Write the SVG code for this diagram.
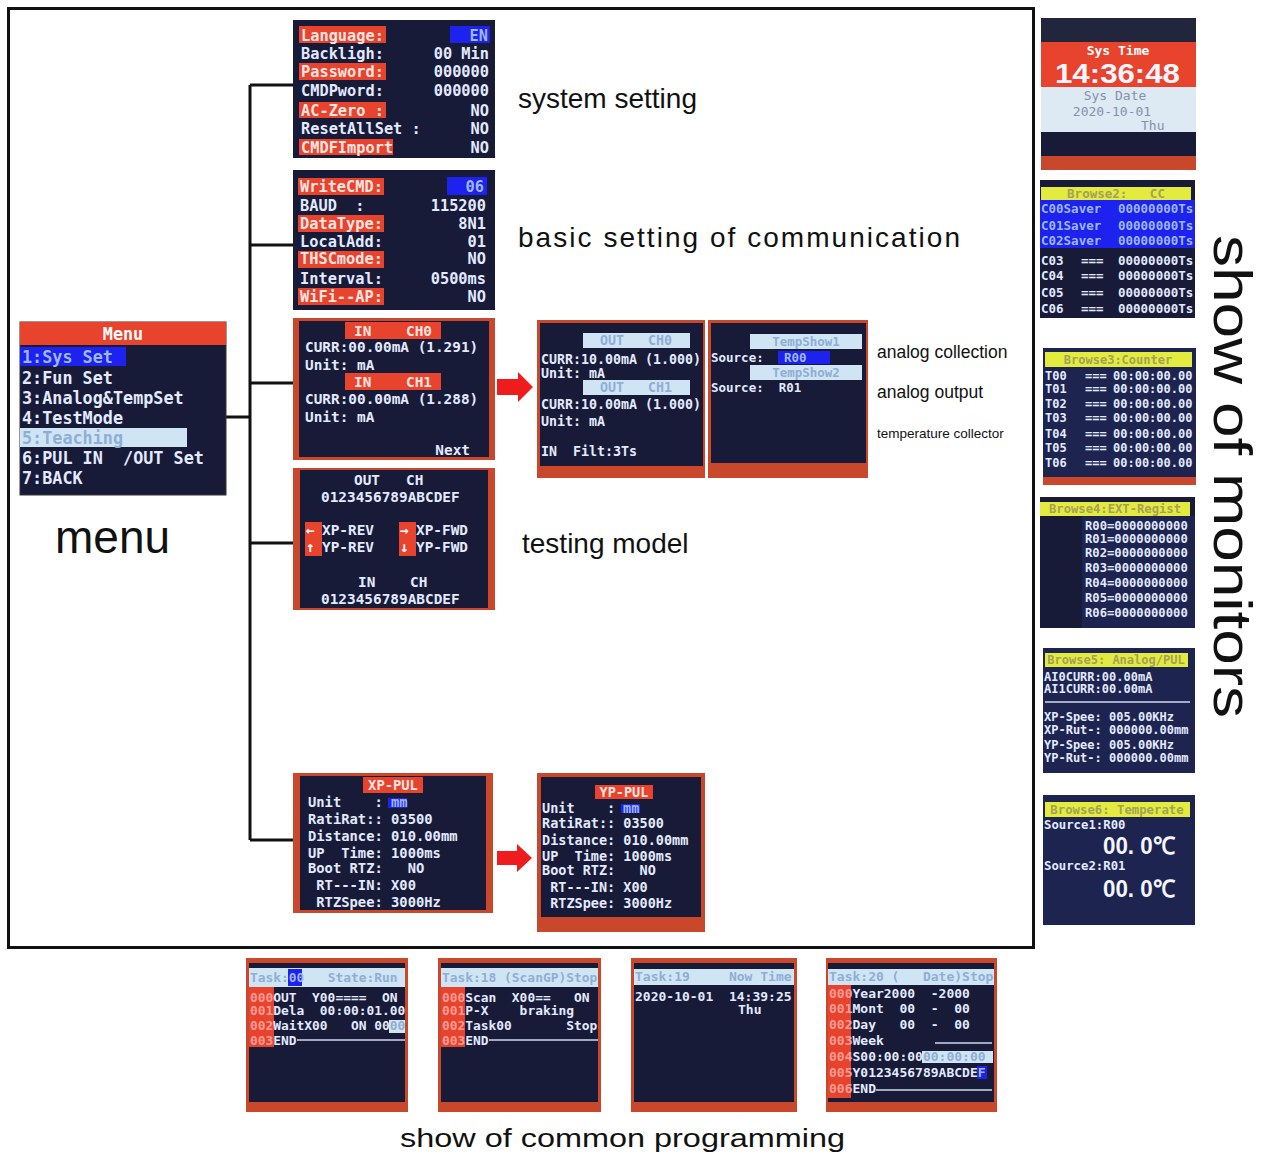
<svg xmlns="http://www.w3.org/2000/svg" width="1270" height="1155" viewBox="0 0 1270 1155">
<style>
.m{font-family:"DejaVu Sans Mono","Liberation Mono",monospace;font-weight:bold;fill:#e3eaff}
.w{fill:#ffffff}
.pk{fill:#ffe6e2}
.hb{fill:#9db8ff}
.hc{fill:#8eaed6}
.hy{fill:#a3a15a}
.num{fill:#ff9c94}
.dim{fill:#8790ab}
.cap{font-family:"Liberation Sans",Arial,sans-serif;fill:#111}
.big{font-family:"Liberation Sans",Arial,sans-serif;font-weight:bold;fill:#f4f6ff}
.scr{fill:#171b38}
.nav{fill:#1d2450}
.bz{fill:#c9472b}
.rd{fill:#e8432d}
.bl{fill:#1e22ee}
.cy{fill:#cfe5f3}
.yl{fill:#e3eb3e}
.wire{fill:none;stroke:#111;stroke-width:3}
.ar{fill:#ee1c1c}
.rule{stroke:#cfd8f0;stroke-width:1.5}
</style>
<rect width="1270" height="1155" fill="#ffffff"/>
<rect x="8.5" y="8.5" width="1025" height="939" fill="none" stroke="#111" stroke-width="3"/>

<!-- tree wiring and red flow arrows -->
<g id="connectors">
  <g class="wire">
    <path d="M250,85 V840"/>
    <path d="M226,417 H250"/>
    <path d="M250,85 H293 M250,245 H293 M250,383 H293 M250,543 H293 M250,840 H293"/>
  </g>
  <path class="ar" d="M497,379 H518 V372 L533,387 L518,402 V395 H497 Z"/>
  <path class="ar" d="M497,851 H517 V844 L532,858 L517,872 V865 H497 Z"/>
</g>

<!-- main menu -->
<g id="menu">
  <rect x="20" y="322" width="206" height="173" class="scr" stroke="#333" stroke-width="1"/>
  <rect x="20" y="322" width="206" height="23" class="rd"/>
  <rect x="20" y="347" width="106" height="19" class="bl"/>
  <rect x="20" y="428" width="167" height="19" class="cy"/>
  <g class="m" font-size="16.8">
    <text x="123" y="340" text-anchor="middle" class="w">Menu</text>
    <text x="22" y="363" class="hb">1:Sys&#160;Set</text>
    <text x="22" y="384">2:Fun&#160;Set</text>
    <text x="22" y="404">3:Analog&amp;TempSet</text>
    <text x="22" y="424">4:TestMode</text>
    <text x="22" y="444" class="hc">5:Teaching</text>
    <text x="22" y="464">6:PUL&#160;IN&#160;&#160;/OUT&#160;Set</text>
    <text x="22" y="484">7:BACK</text>
  </g>
  <text x="55" y="553" class="cap" font-size="46">menu</text>
</g>

<!-- system setting -->
<g id="sys-setting">
  <rect x="293" y="20" width="202" height="138" class="scr"/>
  <rect x="299" y="26" width="87" height="17" class="rd"/>
  <rect x="299" y="63" width="87" height="17" class="rd"/>
  <rect x="299" y="102" width="87" height="16" class="rd"/>
  <rect x="299" y="139" width="94" height="16" class="rd"/>
  <rect x="450" y="26" width="40" height="17" class="bl"/>
  <g class="m" font-size="15.3">
    <text x="301" y="40.5" class="pk">Language:</text><text x="488" y="40.5" text-anchor="end" class="hb">EN</text>
    <text x="301" y="58.5">Backligh:</text><text x="489" y="58.5" text-anchor="end">00&#160;Min</text>
    <text x="301" y="76.5" class="pk">Password:</text><text x="489" y="76.5" text-anchor="end">000000</text>
    <text x="301" y="95.5">CMDPword:</text><text x="489" y="95.5" text-anchor="end">000000</text>
    <text x="301" y="115.5" class="pk">AC-Zero&#160;:</text><text x="489" y="115.5" text-anchor="end">NO</text>
    <text x="301" y="133.5">ResetAllSet&#160;:</text><text x="489" y="133.5" text-anchor="end">NO</text>
    <text x="301" y="152.5" class="pk">CMDFImport</text><text x="489" y="152.5" text-anchor="end">NO</text>
  </g>
  <text x="518" y="108" class="cap" font-size="28">system setting</text>
</g>

<!-- communication setting -->
<g id="comm-setting">
  <rect x="293" y="170" width="202" height="140" class="scr"/>
  <rect x="298" y="178" width="86" height="17" class="rd"/>
  <rect x="298" y="215" width="86" height="17" class="rd"/>
  <rect x="298" y="251" width="86" height="17" class="rd"/>
  <rect x="298" y="288" width="86" height="17" class="rd"/>
  <rect x="447" y="177" width="40" height="18" class="bl"/>
  <g class="m" font-size="15.3">
    <text x="300" y="191.5" class="pk">WriteCMD:</text><text x="484" y="191.5" text-anchor="end" class="hb">06</text>
    <text x="300" y="210.5">BAUD&#160;&#160;:</text><text x="486" y="210.5" text-anchor="end">115200</text>
    <text x="300" y="228.5" class="pk">DataType:</text><text x="486" y="228.5" text-anchor="end">8N1</text>
    <text x="300" y="246.5">LocalAdd:</text><text x="486" y="246.5" text-anchor="end">01</text>
    <text x="300" y="263.5" class="pk">THSCmode:</text><text x="486" y="263.5" text-anchor="end">NO</text>
    <text x="300" y="283.5">Interval:</text><text x="486" y="283.5" text-anchor="end">0500ms</text>
    <text x="300" y="301.5" class="pk">WiFi--AP:</text><text x="486" y="301.5" text-anchor="end">NO</text>
  </g>
  <text x="518" y="247" class="cap" font-size="28" textLength="442">basic setting of communication</text>
</g>

<!-- analog input channels -->
<g id="analog-in">
  <rect x="293" y="318" width="202" height="142" class="bz"/>
  <rect x="299" y="321" width="190" height="136" class="scr"/>
  <rect x="345" y="322" width="96" height="17" class="rd"/>
  <rect x="345" y="373" width="96" height="17" class="rd"/>
  <g class="m" font-size="14.4">
    <text x="393" y="335.5" text-anchor="middle" class="pk">IN&#160;&#160;&#160;&#160;CH0</text>
    <text x="305" y="352">CURR:00.00mA&#160;(1.291)</text>
    <text x="305" y="370">Unit:&#160;mA</text>
    <text x="393" y="386.5" text-anchor="middle" class="pk">IN&#160;&#160;&#160;&#160;CH1</text>
    <text x="305" y="404">CURR:00.00mA&#160;(1.288)</text>
    <text x="305" y="422">Unit:&#160;mA</text>
    <text x="470" y="455" text-anchor="end">Next</text>
  </g>
</g>

<!-- analog output channels -->
<g id="analog-out">
  <rect x="537" y="320" width="168" height="158" class="bz"/>
  <rect x="540" y="323" width="163" height="143" class="scr"/>
  <rect x="583" y="333" width="107" height="15" class="cy"/>
  <rect x="583" y="380" width="107" height="15" class="cy"/>
  <g class="m" font-size="13.3">
    <text x="636" y="345" text-anchor="middle" class="hc">OUT&#160;&#160;&#160;CH0</text>
    <text x="541" y="364">CURR:10.00mA&#160;(1.000)</text>
    <text x="541" y="378">Unit:&#160;mA</text>
    <text x="636" y="392" text-anchor="middle" class="hc">OUT&#160;&#160;&#160;CH1</text>
    <text x="541" y="409">CURR:10.00mA&#160;(1.000)</text>
    <text x="541" y="426">Unit:&#160;mA</text>
    <text x="541" y="456">IN&#160;&#160;Filt:3Ts</text>
  </g>
</g>

<!-- temperature sources -->
<g id="temp-show">
  <rect x="708" y="320" width="160" height="158" class="bz"/>
  <rect x="711" y="323" width="155" height="140" class="scr"/>
  <rect x="750" y="334" width="112" height="15" class="cy"/>
  <rect x="750" y="365" width="112" height="15" class="cy"/>
  <rect x="778" y="351" width="52" height="13" class="bl"/>
  <g class="m" font-size="12.5">
    <text x="806" y="346" text-anchor="middle" class="hc">TempShow1</text>
    <text x="711" y="362">Source:</text><text x="784" y="362" class="hb">R00</text>
    <text x="806" y="377" text-anchor="middle" class="hc">TempShow2</text>
    <text x="711" y="392">Source:&#160;&#160;R01</text>
  </g>
  <text x="877" y="358" class="cap" font-size="17.5">analog collection</text>
  <text x="877" y="398" class="cap" font-size="17.5">analog output</text>
  <text x="877" y="438" class="cap" font-size="13.5">temperature collector</text>
</g>

<!-- test mode -->
<g id="test-mode">
  <rect x="293" y="468" width="202" height="142" class="bz"/>
  <rect x="300" y="470" width="188" height="138" class="scr"/>
  <rect x="305" y="522" width="17" height="34" class="rd"/>
  <rect x="399" y="522" width="17" height="34" class="rd"/>
  <g class="m" font-size="14.4">
    <text x="354" y="485">OUT&#160;&#160;&#160;CH</text>
    <text x="321" y="502">0123456789ABCDEF</text>
    <text x="306" y="535" class="w">←</text><text x="322" y="535">XP-REV</text>
    <text x="306" y="552" class="w">↑</text><text x="322" y="552">YP-REV</text>
    <text x="400" y="535" class="w">→</text><text x="416" y="535">XP-FWD</text>
    <text x="400" y="552" class="w">↓</text><text x="416" y="552">YP-FWD</text>
    <text x="358" y="587">IN&#160;&#160;&#160;&#160;CH</text>
    <text x="321" y="604">0123456789ABCDEF</text>
  </g>
  <text x="522" y="553" class="cap" font-size="28">testing model</text>
</g>

<!-- pulse axis X -->
<g id="xp-pul">
  <rect x="293" y="773" width="200" height="140" class="bz"/>
  <rect x="300" y="776" width="186" height="134" class="scr"/>
  <rect x="363" y="777" width="60" height="16" class="rd"/>
  <rect x="388" y="798" width="19" height="10" class="bl"/>
  <g class="m" font-size="13.8">
    <text x="393" y="790" text-anchor="middle" class="pk">XP-PUL</text>
    <text x="308" y="807">Unit&#160;&#160;&#160;&#160;:</text><text x="391" y="807" class="hb">mm</text>
    <text x="308" y="824">RatiRat::&#160;03500</text>
    <text x="308" y="841">Distance:&#160;010.00mm</text>
    <text x="308" y="858">UP&#160;&#160;Time:&#160;1000ms</text>
    <text x="308" y="873">Boot&#160;RTZ:&#160;&#160;&#160;NO</text>
    <text x="308" y="890">&#160;RT---IN:&#160;X00</text>
    <text x="308" y="907">&#160;RTZSpee:&#160;3000Hz</text>
  </g>
</g>

<!-- pulse axis Y -->
<g id="yp-pul">
  <rect x="537" y="773" width="168" height="159" class="bz"/>
  <rect x="541" y="777" width="160" height="140" class="scr"/>
  <rect x="595" y="785" width="58" height="14" class="rd"/>
  <rect x="621" y="804" width="19" height="9" class="bl"/>
  <g class="m" font-size="13.5">
    <text x="624" y="797" text-anchor="middle" class="pk">YP-PUL</text>
    <text x="542" y="813">Unit&#160;&#160;&#160;&#160;:</text><text x="623" y="813" class="hb">mm</text>
    <text x="542" y="828">RatiRat::&#160;03500</text>
    <text x="542" y="845">Distance:&#160;010.00mm</text>
    <text x="542" y="861">UP&#160;&#160;Time:&#160;1000ms</text>
    <text x="542" y="875">Boot&#160;RTZ:&#160;&#160;&#160;NO</text>
    <text x="542" y="892">&#160;RT---IN:&#160;X00</text>
    <text x="542" y="908">&#160;RTZSpee:&#160;3000Hz</text>
  </g>
</g>

<!-- monitor: system clock -->
<g id="mon-time">
  <rect x="1041" y="18" width="155" height="152" class="scr"/>
  <rect x="1041" y="18" width="155" height="24" fill="#22263c"/>
  <rect x="1041" y="42" width="155" height="45" class="rd"/>
  <rect x="1041" y="87" width="155" height="45" fill="#dde9f3"/>
  <rect x="1041" y="156" width="155" height="14" class="bz"/>
  <text x="1118" y="55" text-anchor="middle" class="m w" font-size="13">Sys&#160;Time</text>
  <text x="1055" y="83" class="big" font-size="28" textLength="125" lengthAdjust="spacingAndGlyphs">14:36:48</text>
  <g class="m" font-size="13">
    <text x="1115" y="100" text-anchor="middle" class="dim" style="font-weight:normal">Sys&#160;Date</text>
    <text x="1112" y="116" text-anchor="middle" class="dim" style="font-weight:normal">2020-10-01</text>
    <text x="1141" y="130" class="dim" style="font-weight:normal">Thu</text>
  </g>
</g>

<!-- monitor: counters C -->
<g id="mon-browse2">
  <rect x="1040" y="180" width="155" height="138" class="scr"/>
  <rect x="1041" y="187" width="150" height="13" class="yl"/>
  <rect x="1040" y="200" width="155" height="48" class="bl"/>
  <g class="m" font-size="12.5">
    <text x="1116" y="198" text-anchor="middle" class="hy">Browse2:&#160;&#160;&#160;CC</text>
    <text x="1041" y="212.5" class="hb">C00Saver</text><text x="1118" y="212.5" class="hb">00000000Ts</text>
    <text x="1041" y="229.5" class="hb">C01Saver</text><text x="1118" y="229.5" class="hb">00000000Ts</text>
    <text x="1041" y="244.5" class="hb">C02Saver</text><text x="1118" y="244.5" class="hb">00000000Ts</text>
    <text x="1041" y="264.5">C03</text><text x="1081" y="264.5">===</text><text x="1118" y="264.5">00000000Ts</text>
    <text x="1041" y="279.5">C04</text><text x="1081" y="279.5">===</text><text x="1118" y="279.5">00000000Ts</text>
    <text x="1041" y="296.5">C05</text><text x="1081" y="296.5">===</text><text x="1118" y="296.5">00000000Ts</text>
    <text x="1041" y="312.5">C06</text><text x="1081" y="312.5">===</text><text x="1118" y="312.5">00000000Ts</text>
  </g>
</g>

<!-- monitor: timers T -->
<g id="mon-browse3">
  <rect x="1043" y="348" width="153" height="137" class="nav"/>
  <rect x="1043" y="477" width="153" height="8" class="bz"/>
  <rect x="1045" y="352" width="147" height="15" class="yl"/>
  <g class="m" font-size="12">
    <text x="1118" y="364" text-anchor="middle" class="hy">Browse3:Counter</text>
    <text x="1045" y="379.5">T00</text><text x="1085" y="379.5">===</text><text x="1113" y="379.5">00:00:00.00</text>
    <text x="1045" y="392.5">T01</text><text x="1085" y="392.5">===</text><text x="1113" y="392.5">00:00:00.00</text>
    <text x="1045" y="407.5">T02</text><text x="1085" y="407.5">===</text><text x="1113" y="407.5">00:00:00.00</text>
    <text x="1045" y="421.5">T03</text><text x="1085" y="421.5">===</text><text x="1113" y="421.5">00:00:00.00</text>
    <text x="1045" y="437.5">T04</text><text x="1085" y="437.5">===</text><text x="1113" y="437.5">00:00:00.00</text>
    <text x="1045" y="451.5">T05</text><text x="1085" y="451.5">===</text><text x="1113" y="451.5">00:00:00.00</text>
    <text x="1045" y="466.5">T06</text><text x="1085" y="466.5">===</text><text x="1113" y="466.5">00:00:00.00</text>
  </g>
</g>

<!-- monitor: extension registers -->
<g id="mon-browse4">
  <rect x="1040" y="497" width="155" height="131" class="scr"/>
  <rect x="1082" y="516" width="113" height="112" class="nav"/>
  <rect x="1040" y="502" width="150" height="14" class="yl"/>
  <g class="m" font-size="12.2">
    <text x="1115" y="513" text-anchor="middle" class="hy">Browse4:EXT-Regist</text>
    <text x="1085" y="529.5">R00=0000000000</text>
    <text x="1085" y="542.5">R01=0000000000</text>
    <text x="1085" y="556.5">R02=0000000000</text>
    <text x="1085" y="571.5">R03=0000000000</text>
    <text x="1085" y="586.5">R04=0000000000</text>
    <text x="1085" y="601.5">R05=0000000000</text>
    <text x="1085" y="616.5">R06=0000000000</text>
  </g>
</g>

<!-- monitor: analog and pulse values -->
<g id="mon-browse5">
  <rect x="1043" y="648" width="152" height="125" class="nav"/>
  <rect x="1045" y="653" width="143" height="14" class="yl"/>
  <line x1="1045" y1="702" x2="1190" y2="702" class="rule"/>
  <g class="m" font-size="12">
    <text x="1116" y="664" text-anchor="middle" class="hy">Browse5:&#160;Analog/PUL</text>
    <text x="1044" y="681">AI0CURR:00.00mA</text>
    <text x="1044" y="693">AI1CURR:00.00mA</text>
    <text x="1044" y="721">XP-Spee:&#160;005.00KHz</text>
    <text x="1044" y="734">XP-Rut-:&#160;000000.00mm</text>
    <text x="1044" y="749">YP-Spee:&#160;005.00KHz</text>
    <text x="1044" y="762">YP-Rut-:&#160;000000.00mm</text>
  </g>
</g>

<!-- monitor: temperatures -->
<g id="mon-browse6">
  <rect x="1043" y="795" width="152" height="130" class="nav"/>
  <rect x="1045" y="802" width="145" height="15" class="yl"/>
  <g class="m" font-size="12.3">
    <text x="1117" y="814" text-anchor="middle" class="hy">Browse6:&#160;Temperate</text>
    <text x="1044" y="829">Source1:R00</text>
    <text x="1044" y="870">Source2:R01</text>
  </g>
  <text x="1103" y="854" class="big" font-size="24" textLength="72" lengthAdjust="spacingAndGlyphs">00. 0℃</text>
  <text x="1103" y="897" class="big" font-size="24" textLength="72" lengthAdjust="spacingAndGlyphs">00. 0℃</text>
</g>

<text transform="translate(1214,235) rotate(90)" class="cap" font-size="54" textLength="483" lengthAdjust="spacingAndGlyphs">show of monitors</text>

<!-- programming: task 00 -->
<g id="prog-task00">
  <rect x="246" y="958" width="162" height="154" class="bz"/>
  <rect x="249" y="963" width="156" height="139" class="scr"/>
  <rect x="249" y="968" width="156" height="19" class="cy"/>
  <rect x="288" y="969" width="14" height="17" class="bl"/>
  <rect x="249" y="987" width="25" height="60" class="rd"/>
  <rect x="389" y="1020" width="16" height="13" class="cy"/>
  <line x1="297" y1="1040" x2="405" y2="1040" class="rule"/>
  <g class="m" font-size="12.9">
    <text x="250" y="982" class="hc">Task:<tspan class="hb">00</tspan>&#160;&#160;&#160;State:Run</text>
    <text x="250" y="1001.5"><tspan class="num">000</tspan>OUT&#160;&#160;Y00====&#160;&#160;ON</text>
    <text x="250" y="1014.5"><tspan class="num">001</tspan>Dela&#160;&#160;00:00:01.00</text>
    <text x="250" y="1029.5"><tspan class="num">002</tspan>WaitX00&#160;&#160;&#160;ON&#160;00<tspan class="hc">00</tspan></text>
    <text x="250" y="1044.5"><tspan class="num">003</tspan>END</text>
  </g>
</g>

<!-- programming: task 18 -->
<g id="prog-task18">
  <rect x="438" y="958" width="163" height="154" class="bz"/>
  <rect x="441" y="963" width="157" height="139" class="scr"/>
  <rect x="441" y="968" width="157" height="19" class="cy"/>
  <rect x="441" y="987" width="24" height="60" class="rd"/>
  <line x1="489" y1="1040" x2="598" y2="1040" class="rule"/>
  <g class="m" font-size="12.9">
    <text x="442" y="982" class="hc">Task:18&#160;(ScanGP)Stop</text>
    <text x="442" y="1001.5"><tspan class="num">000</tspan>Scan&#160;&#160;X00==&#160;&#160;&#160;ON</text>
    <text x="442" y="1014.5"><tspan class="num">001</tspan>P-X&#160;&#160;&#160;&#160;braking</text>
    <text x="442" y="1029.5"><tspan class="num">002</tspan>Task00&#160;&#160;&#160;&#160;&#160;&#160;&#160;Stop</text>
    <text x="442" y="1044.5"><tspan class="num">003</tspan>END</text>
  </g>
</g>

<!-- programming: task 19 -->
<g id="prog-task19">
  <rect x="631" y="958" width="166" height="154" class="bz"/>
  <rect x="634" y="963" width="160" height="139" class="scr"/>
  <rect x="634" y="969" width="160" height="16" class="cy"/>
  <g class="m" font-size="13">
    <text x="635" y="981" class="hc">Task:19&#160;&#160;&#160;&#160;&#160;Now&#160;Time</text>
    <text x="635" y="1001">2020-10-01&#160;&#160;14:39:25</text>
    <text x="738" y="1014">Thu</text>
  </g>
</g>

<!-- programming: task 20 -->
<g id="prog-task20">
  <rect x="826" y="958" width="171" height="154" class="bz"/>
  <rect x="828" y="963" width="166" height="139" class="scr"/>
  <rect x="828" y="969" width="166" height="16" class="cy"/>
  <rect x="828" y="985" width="23" height="113" class="rd"/>
  <rect x="922" y="1051" width="71" height="12" class="cy"/>
  <rect x="977" y="1066" width="10" height="13" class="bl"/>
  <line x1="935" y1="1043" x2="992" y2="1043" class="rule"/>
  <line x1="876" y1="1090" x2="992" y2="1090" class="rule"/>
  <g class="m" font-size="13">
    <text x="829" y="981" class="hc">Task:20&#160;(&#160;&#160;&#160;Date)Stop</text>
    <text x="829" y="998"><tspan class="num">000</tspan>Year2000&#160;&#160;-2000</text>
    <text x="829" y="1013"><tspan class="num">001</tspan>Mont&#160;&#160;00&#160;&#160;-&#160;&#160;00</text>
    <text x="829" y="1029"><tspan class="num">002</tspan>Day&#160;&#160;&#160;00&#160;&#160;-&#160;&#160;00</text>
    <text x="829" y="1045"><tspan class="num">003</tspan>Week</text>
    <text x="829" y="1061"><tspan class="num">004</tspan>S00:00:00<tspan class="hc">00:00:00</tspan></text>
    <text x="829" y="1077"><tspan class="num">005</tspan>Y0123456789ABCDE<tspan class="hb">F</tspan></text>
    <text x="829" y="1093"><tspan class="num">006</tspan>END</text>
  </g>
</g>

<text x="400" y="1147" class="cap" font-size="26" textLength="445" lengthAdjust="spacingAndGlyphs">show of common programming</text>
</svg>
